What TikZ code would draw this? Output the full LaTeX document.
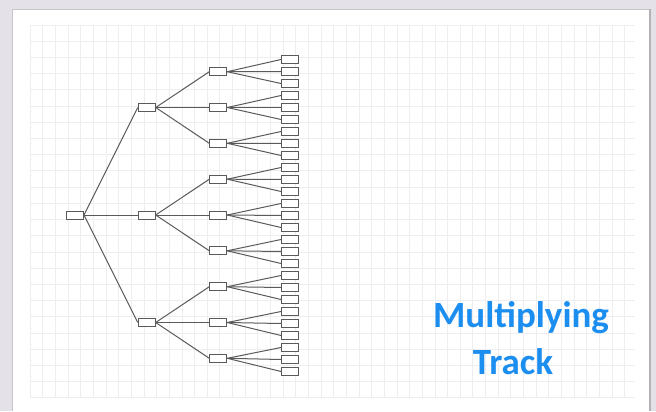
\documentclass[tikz,border=0pt]{standalone}
\usepackage{fontspec}
\setmainfont{Carlito}
\definecolor{backdrop}{RGB}{228,226,232}
\definecolor{gridline}{RGB}{238,238,240}
\definecolor{boxline}{RGB}{90,90,90}
\definecolor{titleblue}{RGB}{28,142,240}
\begin{document}
\begin{tikzpicture}[x=1pt,y=-1pt,
  treebox/.style={draw=boxline,line width=1pt,fill=white,minimum width=17pt,minimum height=8pt,inner sep=0pt},
  branch/.style={draw=boxline,line width=1pt},
  title/.style={text=titleblue,font=\bfseries\fontsize{37}{44}\selectfont,anchor=base}]
  % page backdrop and white sheet
  \fill[backdrop] (0,0) rectangle (656,411);
  \fill[white] (12,9) rectangle (650,411);
  \draw[gray!45,line width=1.2pt] (12.5,411) -- (12.5,9.5) -- (650,9.5);
  \draw[gray!60,line width=1.5pt] (650,9) -- (650,411);
  \useasboundingbox (0,0) rectangle (656,411);
  % faint grid
  \foreach \i in {0,...,47} \draw[gridline,line width=0.6pt] (30+12.65*\i,25) -- (30+12.65*\i,397);
  \foreach \j in {0,...,23} \draw[gridline,line width=0.6pt] (30,25+16.2*\j) -- (635,25+16.2*\j);
  % tree: one root, three children, nine grandchildren, twenty-seven leaves
  \node[treebox] (r) at (75,215) {};
  \foreach \a in {1,2,3} {
    \node[treebox] (a\a) at (146.7,{215+107.5*(\a-2)}) {};
    \draw[branch] (r.east) -- (a\a.west);
  }
  \foreach \a in {1,2,3} \foreach \b in {1,2,3} {
    \pgfmathtruncatemacro{\n}{3*(\a-1)+\b}
    \node[treebox] (b\n) at (218.3,{215+107.5*(\a-2)+35.8*(\b-2)}) {};
    \draw[branch] (a\a.east) -- (b\n.west);
  }
  \foreach \n in {1,...,9} \foreach \c in {1,2,3} {
    \pgfmathtruncatemacro{\m}{3*(\n-1)+\c}
    \node[treebox] (c\m) at (290,{59.5+12*(\m-1)}) {};
    \draw[branch] (b\n.east) -- (c\m.west);
  }
  % caption
  \node[title] (t1) at (521,327) {Multiplying};
  \node[title] (t2) at (513,374) {Track};
\end{tikzpicture}
\end{document}
